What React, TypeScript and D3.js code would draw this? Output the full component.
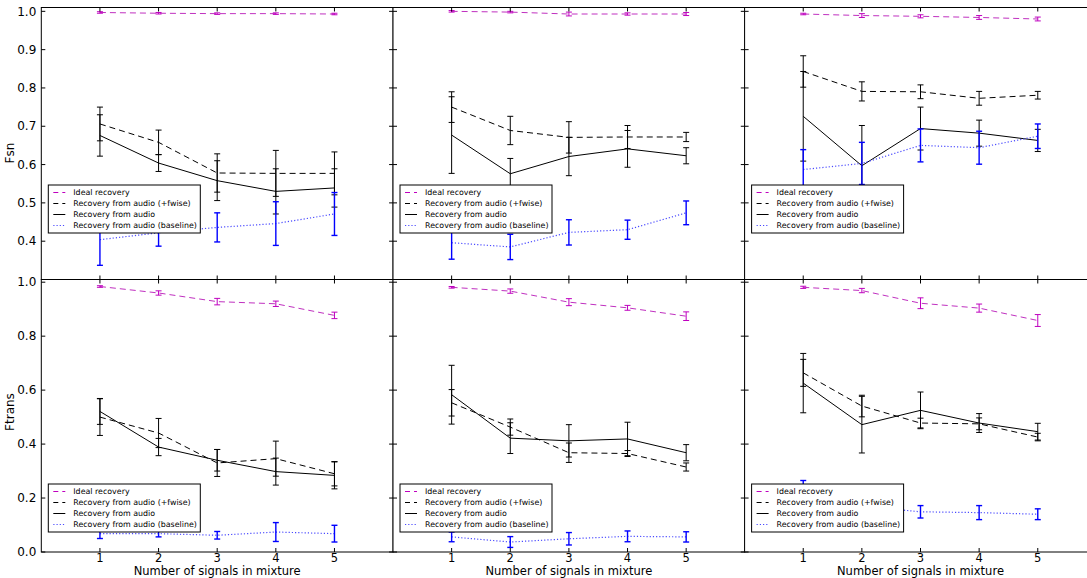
import React from "react";
import * as d3 from "d3";

const signals = [1, 2, 3, 4, 5];
const seriesNames = [
  "Ideal recovery",
  "Recovery from audio (+fwise)",
  "Recovery from audio",
  "Recovery from audio (baseline)",
];
const rowLabels = ["Fsn", "Ftrans"];
const fsnTicks = [0.4, 0.5, 0.6, 0.7, 0.8, 0.9, 1.0];
const ftransTicks = [0.0, 0.2, 0.4, 0.6, 0.8, 1.0];

// Fsn row: one inner array per column
const fsnIdeal = [
  [0.997, 0.995, 0.994, 0.994, 0.993],
  [1.0, 0.998, 0.993, 0.993, 0.993],
  [0.993, 0.989, 0.987, 0.984, 0.98],
];
const fsnIdealErr = [
  [0.002, 0.002, 0.002, 0.002, 0.002],
  [0.002, 0.002, 0.005, 0.003, 0.004],
  [0.002, 0.005, 0.004, 0.005, 0.005],
];
const fsnFwise = [
  [0.706, 0.658, 0.578, 0.577, 0.577],
  [0.75, 0.689, 0.671, 0.672, 0.672],
  [0.843, 0.791, 0.79, 0.773, 0.781],
];
const fsnFwiseErr = [
  [0.044, 0.032, 0.05, 0.06, 0.056],
  [0.04, 0.037, 0.041, 0.03, 0.012],
  [0.041, 0.025, 0.018, 0.018, 0.01],
];
const fsnAudio = [
  [0.676, 0.604, 0.558, 0.53, 0.539],
  [0.677, 0.576, 0.621, 0.641, 0.623],
  [0.726, 0.597, 0.694, 0.682, 0.663],
];
const fsnAudioErr = [
  [0.054, 0.022, 0.052, 0.059, 0.05],
  [0.1, 0.04, 0.05, 0.048, 0.021],
  [0.117, 0.105, 0.056, 0.034, 0.029],
];
const fsnBase = [
  [0.404, 0.422, 0.436, 0.446, 0.471],
  [0.396, 0.385, 0.423, 0.43, 0.474],
  [0.587, 0.603, 0.65, 0.644, 0.674],
];
const fsnBaseErr = [
  [0.067, 0.035, 0.038, 0.057, 0.056],
  [0.043, 0.033, 0.033, 0.025, 0.031],
  [0.052, 0.055, 0.043, 0.043, 0.032],
];

// Ftrans row
const ftIdeal = [
  [0.984, 0.96, 0.928, 0.92, 0.877],
  [0.981, 0.967, 0.926, 0.905, 0.874],
  [0.981, 0.969, 0.922, 0.904, 0.858],
];
const ftIdealErr = [
  [0.003, 0.008, 0.012, 0.01, 0.012],
  [0.003, 0.008, 0.013, 0.009, 0.016],
  [0.004, 0.008, 0.02, 0.015, 0.022],
];
const ftFwise = [
  [0.5, 0.441, 0.33, 0.346, 0.29],
  [0.553, 0.463, 0.368, 0.365, 0.315],
  [0.664, 0.541, 0.478, 0.475, 0.426],
];
const ftFwiseErr = [
  [0.068, 0.054, 0.05, 0.065, 0.045],
  [0.049, 0.03, 0.036, 0.011, 0.015],
  [0.05, 0.04, 0.018, 0.022, 0.014],
];
const ftAudio = [
  [0.521, 0.389, 0.34, 0.298, 0.284],
  [0.583, 0.422, 0.412, 0.419, 0.368],
  [0.626, 0.472, 0.525, 0.478, 0.446],
];
const ftAudioErr = [
  [0.048, 0.032, 0.04, 0.05, 0.05],
  [0.109, 0.057, 0.06, 0.062, 0.03],
  [0.11, 0.105, 0.068, 0.035, 0.031],
];
const ftBase = [
  [0.068, 0.068, 0.062, 0.074, 0.068],
  [0.056, 0.037, 0.049, 0.058, 0.056],
  [0.22, 0.17, 0.149, 0.146, 0.14],
];
const ftBaseErr = [
  [0.018, 0.012, 0.014, 0.035, 0.031],
  [0.018, 0.02, 0.023, 0.02, 0.019],
  [0.045, 0.03, 0.023, 0.026, 0.02],
];

const STYLES = [
  { color: "#bf00bf", line: "#c030c0", dash: "6,4", w: 1 },
  { color: "#000000", line: "#000000", dash: "6,4", w: 1 },
  { color: "#000000", line: "#000000", dash: "", w: 1 },
  { color: "#0000ff", line: "#4a4aff", dash: "1.2,2", w: 1.2 },
];

const FONT = "DejaVu Sans, sans-serif";
const W = 1087;
const H = 578;
const colLefts = [41.3, 393, 744.6];
const colWidth = 351.8;
const rows = [
  {
    domain: [0.3, 1.01],
    range: [279.5, 7.5],
    ticks: fsnTicks,
    legendTop: 185,
    data: [fsnIdeal, fsnFwise, fsnAudio, fsnBase],
    errs: [fsnIdealErr, fsnFwiseErr, fsnAudioErr, fsnBaseErr],
    labelY: 153,
  },
  {
    domain: [0, 1.01],
    range: [552, 279.5],
    ticks: ftransTicks,
    legendTop: 484,
    data: [ftIdeal, ftFwise, ftAudio, ftBase],
    errs: [ftIdealErr, ftFwiseErr, ftAudioErr, ftBaseErr],
    labelY: 412,
  },
];

function Panel({ row, ri, ci }: { row: any; ri: number; ci: number }) {
  const left = colLefts[ci];
  const x = d3.scaleLinear().domain([0, 6]).range([left, left + colWidth]);
  const y = d3.scaleLinear().domain(row.domain).range(row.range);
  const top = row.range[1];
  const bottom = row.range[0];
  const right = left + colWidth;
  const tl = 4;
  const cap = 3;
  const lineGen = d3
    .line<number>()
    .x((_, i) => x(signals[i]))
    .y((d) => y(d));
  const lx = left + 7;
  const ly = row.legendTop;
  return (
    <g>
      <rect x={left} y={top} width={colWidth} height={bottom - top} fill="white" />
      {row.data.map((series: number[][], si: number) => {
        const vals = series[ci];
        const errs = row.errs[si][ci];
        const st = STYLES[si];
        return (
          <g key={si}>
            <path
              d={lineGen(vals) || ""}
              fill="none"
              stroke={st.line}
              strokeWidth={st.w}
              strokeDasharray={st.dash || undefined}
            />
            {vals.map((v, i) => {
              const cx = x(signals[i]);
              const y1 = y(v + errs[i]);
              const y0 = y(v - errs[i]);
              return (
                <g key={i} stroke={st.color} strokeWidth={si === 3 ? 1.4 : 1}>
                  <line x1={cx} x2={cx} y1={y1} y2={y0} />
                  <line x1={cx - cap} x2={cx + cap} y1={y1} y2={y1} />
                  <line x1={cx - cap} x2={cx + cap} y1={y0} y2={y0} />
                </g>
              );
            })}
          </g>
        );
      })}
      {row.ticks.map((t: number) => (
        <g key={"yt" + t} stroke="black" strokeWidth={1}>
          <line x1={left} x2={left + tl} y1={y(t)} y2={y(t)} />
          <line x1={right - tl} x2={right} y1={y(t)} y2={y(t)} />
        </g>
      ))}
      {signals.map((s) => (
        <g key={"xt" + s} stroke="black" strokeWidth={1}>
          <line x1={x(s)} x2={x(s)} y1={bottom} y2={bottom - tl} />
          <line x1={x(s)} x2={x(s)} y1={top} y2={top + tl} />
        </g>
      ))}
      <rect x={left} y={top} width={colWidth} height={bottom - top} fill="none" stroke="black" strokeWidth={1} />
      <rect x={lx} y={ly} width={152} height={48} fill="white" stroke="black" strokeWidth={1} />
      {seriesNames.map((name, si) => {
        const st = STYLES[si];
        const cy = ly + 7.5 + si * 11;
        return (
          <g key={name}>
            <line
              x1={lx + 5}
              x2={lx + 17}
              y1={cy}
              y2={cy}
              stroke={si === 0 ? st.color : st.line}
              strokeWidth={st.w}
              strokeDasharray={st.dash ? (si === 3 ? "1.2,2" : "5,4") : undefined}
            />
            <text x={lx + 25} y={cy} dy="0.35em" fontSize={7.9} fontFamily={FONT} fill="black">
              {name}
            </text>
          </g>
        );
      })}
      {ci === 0 &&
        row.ticks.map((t: number) => (
          <text key={"yl" + t} x={left - 5} y={y(t)} dy="0.35em" textAnchor="end" fontSize={12} fontFamily={FONT}>
            {d3.format(".1f")(t)}
          </text>
        ))}
      {ri === 1 &&
        signals.map((s) => (
          <text key={"xl" + s} x={x(s)} y={561.5} textAnchor="middle" fontSize={11.5} fontFamily={FONT}>
            {s}
          </text>
        ))}
      {ri === 1 && (
        <text x={x(3)} y={575} textAnchor="middle" fontSize={11.5} fontFamily={FONT}>
          Number of signals in mixture
        </text>
      )}
    </g>
  );
}

export default function App() {
  return (
    <svg
      width={W}
      height={H}
      style={{ position: "absolute", left: 0, top: 0, background: "white" }}
    >
      <rect width={W} height={H} fill="white" />
      {rows.map((row, ri) =>
        colLefts.map((_, ci) => <Panel key={ri + "-" + ci} row={row} ri={ri} ci={ci} />)
      )}
      {rows.map((row, ri) => (
        <text
          key={"rl" + ri}
          transform={`translate(14,${row.labelY}) rotate(-90)`}
          textAnchor="middle"
          fontSize={12}
          fontFamily={FONT}
        >
          {rowLabels[ri]}
        </text>
      ))}
    </svg>
  );
}
